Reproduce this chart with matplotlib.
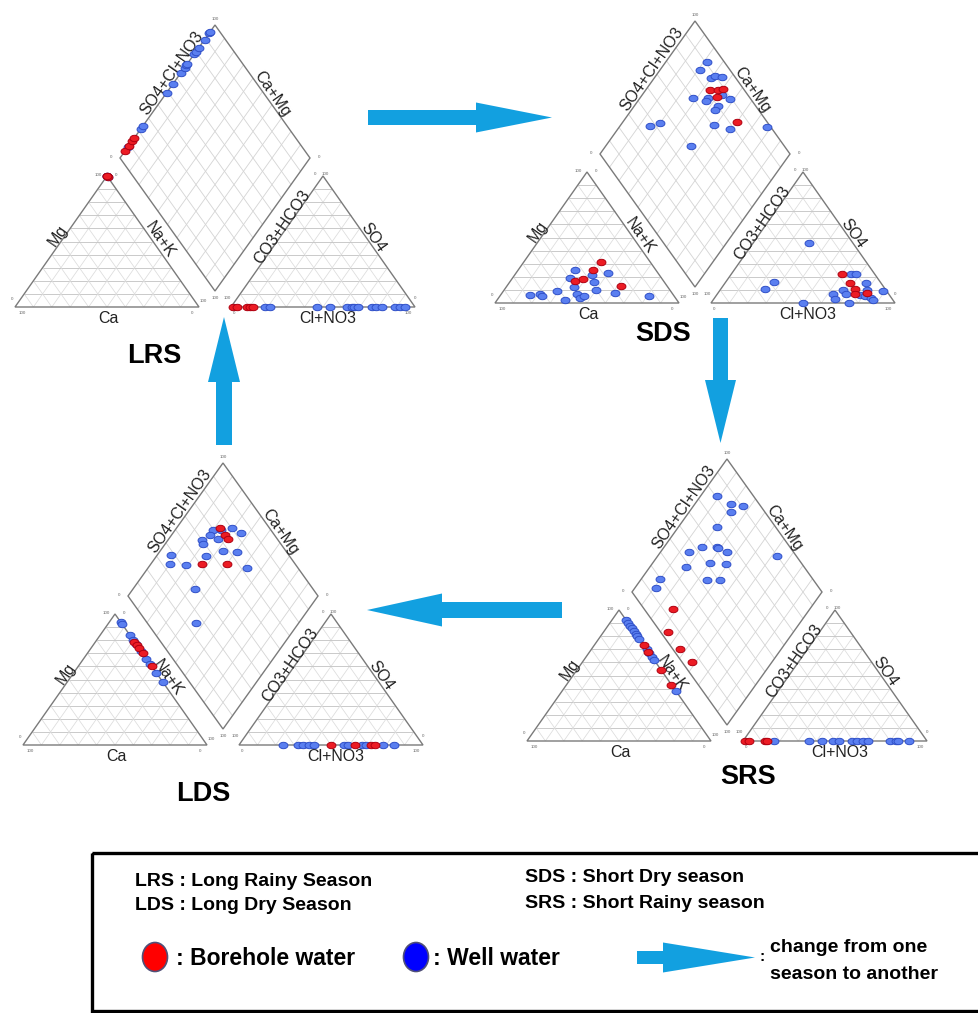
import numpy as np
import matplotlib.pyplot as plt
from matplotlib.patches import Polygon, Ellipse, Rectangle
from matplotlib.transforms import Affine2D

plt.rcParams['font.family'] = ['Liberation Sans', 'DejaVu Sans']

# ---------------- data (percent) ----------------
# cation points: (Ca, Mg); anion points: (Cl+NO3, SO4); diamond: (Ca+Mg, SO4+Cl+NO3)

# LRS : long rainy season
lrs_cat_well = [(0, 100), (0, 99), (0, 100)]
lrs_cat_bore = [(0, 100), (0, 99), (0, 100)]
lrs_an_well = [(18.5, 0), (21, 0), (47, 0), (54, 0), (63, 0), (65.5, 0), (67, 0), (69, 0),
               (76.5, 0), (79, 0), (82, 0), (89, 0), (92, 0), (94.5, 0)]
lrs_an_bore = [(1, 0), (3, 0), (8.5, 0), (10.5, 0), (12, 0)]
lrs_dia_well = [(100, 8), (100, 22), (100, 24), (100, 49), (100, 56), (100, 64), (100, 68),
                (100, 70), (100, 71), (100, 78), (100, 80), (100, 83), (100, 89), (100, 94), (100, 95)]
lrs_dia_bore = [(100, 5), (100, 9), (100, 13), (100, 15)]

# SDS : short dry season
sds_cat_well = [(78, 6), (72, 7), (72, 5), (62, 9), (61, 2), (50, 19), (44, 25), (51, 12), (52, 7),
                (52, 4), (49, 5), (37, 21), (38, 16), (40, 10), (27, 23), (31, 8), (14, 5)]
sds_cat_bore = [(48, 17), (43, 18), (34, 25), (27, 31), (25, 13)]
sds_an_well = [(24, 11), (26, 16), (50, 0), (30, 46), (63, 7), (66, 3), (67, 10), (70, 7), (75, 0),
               (65, 22), (68, 22), (78, 6), (81, 5), (77, 15), (80, 10), (85, 4), (87, 2), (89, 9)]
sds_an_bore = [(60, 22), (68, 15), (73, 11), (75, 7), (81, 8)]
sds_dia_well = [(79, 84), (78, 91), (70, 87), (69, 90), (65, 93), (72, 70), (64, 78), (64, 76),
                (58, 86), (52, 89), (56, 80), (56, 77), (84, 37), (80, 43), (51, 71), (41, 78),
                (22, 98), (55, 51)]
sds_dia_bore = [(66, 82), (62, 86), (60, 89), (60, 83), (40, 84)]

# LDS : long dry season
lds_cat_well = [(0, 94), (0, 92), (0, 84), (0, 80), (0, 77), (0, 72), (0, 66), (0, 62), (0, 55), (0, 48)]
lds_cat_bore = [(0, 79), (0, 76), (0, 74), (0, 70), (0, 60)]
lds_an_well = [(24, 0), (32, 0), (35, 0), (38, 0), (41, 0), (57, 0), (59, 0), (67, 0), (69, 0),
               (78, 0), (84, 0)]
lds_an_bore = [(50, 0), (63, 0), (72, 0), (74, 0)]
lds_dia_well = [(80, 70), (76, 74), (71, 80), (64, 83), (80, 66), (74, 69), (82, 60), (80, 59),
                (74, 56), (67, 67), (59, 74), (93, 38), (90, 34), (81, 42), (48, 73), (67, 38), (54, 26)]
lds_dia_bore = [(77, 74), (72, 74), (69, 74), (73, 51), (60, 64)]

# SRS : short rainy season
srs_cat_well = [(0, 92), (0, 90), (0, 88), (0, 86), (0, 84), (0, 82), (0, 80), (0, 78), (0, 70),
                (0, 67), (0, 64), (0, 62), (0, 38)]
srs_cat_bore = [(0, 73), (0, 68), (0, 54), (0, 43)]
srs_an_well = [(17, 0), (36, 0), (43, 0), (49, 0), (52, 0), (59, 0), (62, 0), (65, 0), (68, 0),
               (80, 0), (83, 0), (84, 0), (90, 0)]
srs_an_bore = [(1, 0), (3, 0), (12, 0), (13, 0)]
srs_dia_well = [(91, 81), (81, 85), (74, 91), (78, 82), (80, 69), (80, 54), (72, 62), (71, 62),
                (85, 45), (65, 65), (81, 38), (70, 52), (61, 60), (37, 90), (90, 20), (89, 14),
                (65, 44), (58, 51)]
srs_dia_bore = [(72, 15), (66, 4), (53, 4), (42, 5)]

season_names = {'LRS': 'Long Rainy Season', 'LDS': 'Long Dry Season',
                'SDS': 'Short Dry season', 'SRS': 'Short Rainy season'}

# ---------------- piper geometry (pixels) ----------------
S, H, GAP = 184.0, 131.0, 32.0
DB = np.array([200.0, 16.0])
DL = np.array([105.0, 149.0])
DR = np.array([295.0, 149.0])

BLUE_F, BLUE_E = '#5a7ff0', '#2f4fc8'
RED_F, RED_E = '#ec1c24', '#b00010'
ARROW_C = '#12a0e0'
EDGE_C = '#7a7a7a'
TXT_C = '#222222'

t = np.linspace(0, 2 * np.pi, 40)
ELL = np.column_stack([np.cos(t), 0.72 * np.sin(t)])


def cation_xy(ca, mg):
    ca = np.asarray(ca, float) / 100
    mg = np.asarray(mg, float) / 100
    return S * (1 - ca - 0.5 * mg), H * mg


def anion_xy(cl, so4):
    cl = np.asarray(cl, float) / 100
    so4 = np.asarray(so4, float) / 100
    return S + GAP + S * (cl + 0.5 * so4), H * so4


def diamond_xy(camg, so4cl):
    a = np.asarray(camg, float) / 100
    b = np.asarray(so4cl, float) / 100
    x = DB[0] + a * (DL[0] - DB[0]) + b * (DR[0] - DB[0])
    y = DB[1] + a * (DL[1] - DB[1]) + b * (DR[1] - DB[1])
    return x, y


def seg(ax, tr, f, p, q, **kw):
    x, y = f([p[0], q[0]], [p[1], q[1]])
    ax.plot(x, y, transform=tr, solid_capstyle='butt', **kw)


def frame(ax, tr):
    lv = range(10, 100, 10)
    g = dict(color='#dcdcdc', lw=0.55, zorder=1)
    gh = dict(color='#c6c6c6', lw=0.65, zorder=1)
    gd = dict(color='#d4d4d4', lw=0.6, zorder=1)
    for m in lv:
        seg(ax, tr, cation_xy, (100 - m, m), (0, m), **gh)
        seg(ax, tr, cation_xy, (m, 0), (m, 100 - m), **g)
        seg(ax, tr, cation_xy, (100 - m, 0), (0, 100 - m), **g)
        seg(ax, tr, anion_xy, (0, m), (100 - m, m), **gh)
        seg(ax, tr, anion_xy, (m, 0), (m, 100 - m), **g)
        seg(ax, tr, anion_xy, (100 - m, 0), (0, 100 - m), **g)
        seg(ax, tr, diamond_xy, (m, 0), (m, 100), **gd)
        seg(ax, tr, diamond_xy, (0, m), (100, m), **gd)
    for f, corners in ((cation_xy, [(100, 0), (0, 0), (0, 100)]),
                       (anion_xy, [(0, 0), (100, 0), (0, 100)]),
                       (diamond_xy, [(0, 0), (100, 0), (100, 100), (0, 100)])):
        x, y = f([c[0] for c in corners], [c[1] for c in corners])
        ax.add_patch(Polygon(np.column_stack([x, y]), closed=True, fill=False,
                             ec=EDGE_C, lw=1.0, transform=tr, zorder=2))
    tk = dict(fontsize=3.2, color='#666666', ha='center', va='center', transform=tr)
    for (x, y, s) in [(7, -6, '100'), (-3, 8, '0'), (177, -6, '0'), (188, 6, '100'),
                      (83, 132, '100'), (101, 132, '0'),
                      (212, 9, '100'), (219, -6, '0'), (393, -6, '100'), (400, 9, '0'),
                      (300, 133, '0'), (310, 133, '100'),
                      (200, 288, '100'), (96, 150, '0'), (304, 150, '0'), (200, 9, '100')]:
        ax.text(x, y, s, **tk)
    lab = dict(fontsize=11.5, color=TXT_C, ha='center', va='center', transform=tr,
               rotation_mode='anchor')
    ax.text(93, -11, 'Ca', **lab)
    ax.text(43, 71, 'Mg', rotation=55, **lab)
    ax.text(145, 67, 'Na+K', rotation=-55, **lab)
    ax.text(313, -11, 'Cl+NO3', **lab)
    ax.text(267, 80, 'CO3+HCO3', rotation=55, **lab)
    ax.text(358, 69, 'SO4', rotation=-55, **lab)
    ax.text(157, 234, 'SO4+Cl+NO3', rotation=55, **lab)
    ax.text(257, 213, 'Ca+Mg', rotation=-55, **lab)


def pts(ax, tr, f, data, fc, ec):
    if not data:
        return
    x, y = f([d[0] for d in data], [d[1] for d in data])
    ax.plot(x, y, ls='none', marker=ELL, ms=6.4, mfc=fc, mec=ec, mew=0.7,
            transform=tr, zorder=5)


def piper(ax, ox, oy, cat_w, cat_b, an_w, an_b, dia_w, dia_b):
    tr = Affine2D().scale(1, -1).translate(ox, oy) + ax.transData
    frame(ax, tr)
    for f, w, b in ((cation_xy, cat_w, cat_b), (anion_xy, an_w, an_b), (diamond_xy, dia_w, dia_b)):
        pts(ax, tr, f, w, BLUE_F, BLUE_E)
        pts(ax, tr, f, b, RED_F, RED_E)


def block_arrow(ax, x0, y0, x1, y1, shaft, head, head_len, color=ARROW_C):
    p0, p1 = np.array([x0, y0], float), np.array([x1, y1], float)
    d = p1 - p0
    L = np.hypot(*d)
    u = d / L
    n = np.array([-u[1], u[0]])
    hb = p0 + u * (L - head_len)
    v = [p0 + n * shaft / 2, hb + n * shaft / 2, hb + n * head / 2, p1,
         hb - n * head / 2, hb - n * shaft / 2, p0 - n * shaft / 2]
    ax.add_patch(Polygon(v, closed=True, fc=color, ec='none', zorder=3))


fig = plt.figure(figsize=(9.79, 10.13), dpi=100)
ax = fig.add_axes([0, 0, 1, 1])
ax.set_xlim(0, 979)
ax.set_ylim(1013, 0)
ax.axis('off')

piper(ax, 15, 307, lrs_cat_well, lrs_cat_bore, lrs_an_well, lrs_an_bore, lrs_dia_well, lrs_dia_bore)
piper(ax, 495, 303, sds_cat_well, sds_cat_bore, sds_an_well, sds_an_bore, sds_dia_well, sds_dia_bore)
piper(ax, 23, 745, lds_cat_well, lds_cat_bore, lds_an_well, lds_an_bore, lds_dia_well, lds_dia_bore)
piper(ax, 527, 741, srs_cat_well, srs_cat_bore, srs_an_well, srs_an_bore, srs_dia_well, srs_dia_bore)

big = dict(fontsize=19.5, fontweight='bold', ha='center', va='center', color='black')
ax.text(154, 356, 'LRS', **big)
ax.text(663, 334, 'SDS', **big)
ax.text(203, 794, 'LDS', **big)
ax.text(748, 777, 'SRS', **big)

# season cycle arrows
block_arrow(ax, 368, 117.5, 552, 117.5, 15, 30, 76)
block_arrow(ax, 720.5, 318, 720.5, 443, 15, 31, 63)
block_arrow(ax, 562, 610, 367, 610, 16, 33, 75)
block_arrow(ax, 224, 445, 224, 317, 16, 32, 65)

# legend box
ax.add_patch(Rectangle((92, 853), 900, 158, fill=False, ec='black', lw=2.4, zorder=6))
lg = dict(fontsize=14, fontweight='bold', ha='left', va='center', color='black')
ax.text(135, 881, 'LRS : ' + season_names['LRS'], **lg)
ax.text(135, 905, 'LDS : ' + season_names['LDS'], **lg)
ax.text(525, 877, 'SDS : ' + season_names['SDS'], **lg)
ax.text(525, 903, 'SRS : ' + season_names['SRS'], **lg)

ax.add_patch(Ellipse((155, 957), 25, 29, fc='#ff0000', ec='#505078', lw=1.2, zorder=6))
ax.add_patch(Ellipse((416, 957), 25, 29, fc='#0000ff', ec='#505078', lw=1.2, zorder=6))
lg2 = dict(fontsize=16.5, fontweight='bold', ha='left', va='center', color='black')
ax.text(176, 958, ': Borehole water', **lg2)
ax.text(433, 958, ': Well water', **lg2)

block_arrow(ax, 637, 957.5, 755, 957.5, 13, 30, 92)
ax.text(762, 957, ':', fontsize=11, fontweight='bold', ha='center', va='center')
ax.text(770, 947, 'change from one', **lg)
ax.text(770, 974, 'season to another', **lg)

fig.savefig('out.png', dpi=100)
